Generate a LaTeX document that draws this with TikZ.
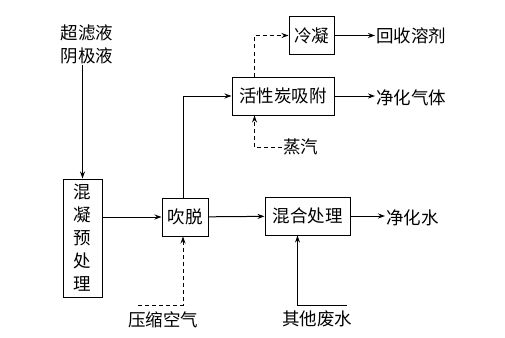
\documentclass[tikz,border=0pt]{standalone}
\usepackage{fontspec}
\setmainfont{Noto Sans CJK SC}
\usetikzlibrary{arrows.meta,positioning}
\tikzset{
  unit/.style={draw,line width=1pt,minimum height=38pt,inner sep=1pt,font=\fontsize{17.5}{19}\selectfont},
  lbl/.style={inner sep=1pt,font=\fontsize{17.5}{23}\selectfont,align=center},
  arr/.style={-{Stealth[length=7pt,width=5pt]},line width=1pt},
  gas/.style={arr,dash pattern=on 4pt off 3pt}
}

\begin{document}
\begin{tikzpicture}[x=1pt,y=-1pt]
  \useasboundingbox (0,0) rectangle (505,337);
  \node[unit,minimum width=39pt,minimum height=118pt,align=center,font=\fontsize{17.5}{23}\selectfont] (pre) at (82.5,238) {混\\凝\\预\\处\\理};
  \node[unit,minimum width=46pt] (strip) at (185,217) {吹脱};
  \node[unit,minimum width=85pt] (mix) at (307.5,216) {混合处理};
  \node[unit,minimum width=102pt] (adsorb) at (283,96) {活性炭吸附};
  \node[unit,minimum width=45pt,minimum height=37pt] (cond) at (311.5,35.5) {冷凝};

  \node[lbl] (feed) at (87,44) {超滤液\\阴极液};
  \node[lbl,anchor=west] (solvent) at (375,36) {回收溶剂};
  \node[lbl,anchor=west] (gas) at (375,98) {净化气体};
  \node[lbl,anchor=west] (water) at (385,218) {净化水};
  \node[lbl,anchor=west] (steam) at (282,147) {蒸汽};
  \node[lbl] (air) at (163,320) {压缩空气};
  \node[lbl] (waste) at (317,319) {其他废水};
  \coordinate (airin) at (138,305);
  \coordinate (wastein) at (347,305);

  \draw[arr] (pre.north |- feed.south) -- (pre.north);
  \draw[arr] (pre.east |- strip) -- (strip.west);
  \draw[arr] (strip) -- (mix);
  \draw[arr] ([xshift=-2pt]strip.north) |- (adsorb.west);
  \draw[arr] (adsorb.east) -- (adsorb.east -| gas.west);
  \draw[arr] (cond.east) -- (cond.east -| solvent.west);
  \draw[arr] (mix.east) -- (mix.east -| water.west);
  \draw[gas] ([xshift=23pt]adsorb.north west) |- (cond.west);
  \draw[gas] (steam.west) -| ([xshift=23pt]adsorb.south west);
  \draw[gas] (airin) -| ([xshift=-2pt]strip.south);
  \draw[arr] (wastein) -| ([xshift=-10pt]mix.south);
\end{tikzpicture}
\end{document}
